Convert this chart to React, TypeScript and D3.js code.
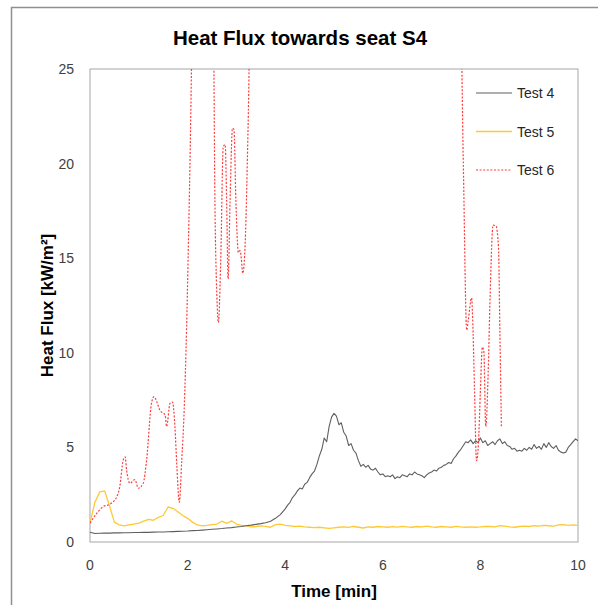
import React from "react";
import * as d3 from "d3";

const yTicks = [0, 5, 10, 15, 20, 25];
const xTicks = [0, 2, 4, 6, 8, 10];
const seriesNames = ["Test 4", "Test 5", "Test 6"];

const t4 = [
  0.0, 0.1, 0.2, 0.3, 0.4, 0.5, 0.6, 0.7, 0.8, 0.9, 1.0, 1.1, 1.2, 1.3, 1.4, 1.5, 1.6, 1.7, 1.8, 1.9,
  2.0, 2.1, 2.2, 2.3, 2.4, 2.5, 2.6, 2.7, 2.8, 2.9, 3.0, 3.1, 3.2, 3.3, 3.4, 3.5, 3.6, 3.7, 3.8, 3.9,
  4.0, 4.05, 4.1, 4.15, 4.2, 4.25, 4.3, 4.35, 4.4, 4.45, 4.5, 4.55, 4.6, 4.65, 4.7, 4.75, 4.8, 4.85, 4.9, 4.95,
  5.0, 5.05, 5.1, 5.15, 5.2, 5.25, 5.3, 5.35, 5.4, 5.45, 5.5, 5.55, 5.6, 5.65, 5.7, 5.75, 5.8, 5.85, 5.9, 5.95,
  6.0, 6.05, 6.1, 6.15, 6.2, 6.25, 6.3, 6.35, 6.4, 6.45, 6.5, 6.55, 6.6, 6.65, 6.7, 6.75, 6.8, 6.85, 6.9, 6.95,
  7.0, 7.05, 7.1, 7.15, 7.2, 7.25, 7.3, 7.35, 7.4, 7.45, 7.5, 7.55, 7.6, 7.65, 7.7, 7.75, 7.8, 7.85, 7.9, 7.95,
  8.0, 8.05, 8.1, 8.15, 8.2, 8.25, 8.3, 8.35, 8.4, 8.45, 8.5, 8.55, 8.6, 8.65, 8.7, 8.75, 8.8, 8.85, 8.9, 8.95,
  9.0, 9.05, 9.1, 9.15, 9.2, 9.25, 9.3, 9.35, 9.4, 9.45, 9.5, 9.55, 9.6, 9.65, 9.7, 9.75, 9.8, 9.85, 9.9, 9.95, 10.0,
];

const test4 = [
  0.52, 0.45, 0.46, 0.47, 0.47, 0.48, 0.48, 0.49, 0.49, 0.5, 0.5, 0.51, 0.51, 0.52, 0.53, 0.53, 0.54, 0.55, 0.56, 0.57,
  0.58, 0.6, 0.61, 0.63, 0.65, 0.67, 0.69, 0.71, 0.74, 0.76, 0.79, 0.82, 0.86, 0.89, 0.93, 0.97, 1.02, 1.1, 1.25, 1.45,
  1.75, 1.95, 2.1, 2.35, 2.5, 2.7, 2.85, 2.8, 3.05, 3.15, 3.4, 3.6, 3.75, 4.1, 4.55, 4.9, 5.5, 5.3, 6.1, 6.6,
  6.8, 6.65, 6.2, 6.3, 5.8, 5.6, 5.1, 5.2, 4.85, 4.7, 4.3, 4.0, 4.1, 3.95, 4.05, 3.85, 3.8, 3.9, 3.7, 3.55,
  3.6, 3.45, 3.5, 3.45, 3.55, 3.35, 3.45, 3.4, 3.55, 3.5, 3.45, 3.6, 3.55, 3.7, 3.6, 3.55, 3.5, 3.4, 3.55, 3.65,
  3.7, 3.8, 3.75, 3.9, 3.95, 4.05, 4.1, 4.2, 4.15, 4.4, 4.55, 4.75, 4.9, 5.1, 5.3, 5.25, 5.4, 5.2, 5.35, 5.25,
  5.5, 5.25, 5.35, 5.1, 5.2, 5.3, 5.15, 5.35, 5.45, 5.2, 5.3, 5.1, 5.05, 4.9, 4.95, 4.8, 4.85, 4.8, 4.95, 4.85,
  5.0, 4.9, 5.15, 4.95, 5.05, 4.9, 5.2, 5.0, 5.25, 5.05, 4.95, 5.1, 4.85, 4.75, 4.7, 4.75, 5.0, 5.15, 5.3, 5.45, 5.35,
];

const t5 = [
  0.0, 0.1, 0.2, 0.3, 0.4, 0.5, 0.6, 0.7, 0.8, 0.9, 1.0, 1.1, 1.2, 1.3, 1.4, 1.5, 1.6, 1.7, 1.8, 1.9,
  2.0, 2.1, 2.2, 2.3, 2.4, 2.5, 2.6, 2.7, 2.8, 2.9, 3.0, 3.1, 3.2, 3.3, 3.4, 3.5, 3.6, 3.7, 3.8, 3.9,
  4.0, 4.1, 4.2, 4.3, 4.4, 4.5, 4.6, 4.7, 4.8, 4.9, 5.0, 5.1, 5.2, 5.3, 5.4, 5.5, 5.6, 5.7, 5.8, 5.9,
  6.0, 6.1, 6.2, 6.3, 6.4, 6.5, 6.6, 6.7, 6.8, 6.9, 7.0, 7.1, 7.2, 7.3, 7.4, 7.5, 7.6, 7.7, 7.8, 7.9,
  8.0, 8.1, 8.2, 8.3, 8.4, 8.5, 8.6, 8.7, 8.8, 8.9, 9.0, 9.1, 9.2, 9.3, 9.4, 9.5, 9.6, 9.7, 9.8, 9.9, 10.0,
];

const test5 = [
  1.0, 2.1, 2.65, 2.7, 1.9, 1.05, 0.9, 0.85, 0.9, 0.95, 1.0, 1.1, 1.2, 1.15, 1.3, 1.4, 1.85, 1.78, 1.6, 1.4,
  1.25, 1.05, 0.9, 0.85, 0.88, 0.92, 0.95, 1.1, 0.98, 1.12, 0.95, 0.88, 0.85, 0.8, 0.82, 0.85, 0.83, 0.78, 0.92, 0.95,
  0.88, 0.85, 0.82, 0.84, 0.8, 0.78, 0.76, 0.78, 0.75, 0.72, 0.75, 0.78, 0.8, 0.77, 0.82, 0.78, 0.74, 0.8, 0.78, 0.82,
  0.8, 0.78, 0.81, 0.79, 0.83, 0.8, 0.78, 0.82, 0.8, 0.84, 0.8, 0.78, 0.82, 0.8, 0.78, 0.83, 0.8, 0.78, 0.8, 0.78,
  0.8, 0.83, 0.82, 0.8, 0.86, 0.84, 0.8, 0.78, 0.82, 0.84, 0.82, 0.86, 0.84, 0.88, 0.86, 0.84, 0.9, 0.92, 0.88, 0.9, 0.88,
];

const t6 = [
  0, 0.14, 0.27, 0.41, 0.55, 0.61, 0.68, 0.72, 0.75, 0.82, 0.92, 0.99, 1.09, 1.16, 1.26, 1.31, 1.37, 1.43, 1.54, 1.57,
  1.64, 1.69, 1.74, 1.78, 1.83, 1.88, 1.93, 1.98, 2.01, 2.05, 2.09, 2.3, 2.53, 2.56, 2.6, 2.63, 2.68, 2.73, 2.77, 2.8,
  2.83, 2.87, 2.92, 2.95, 2.99, 3.04, 3.07, 3.1, 3.13, 3.18, 3.24, 3.28, 5.5, 7.6, 7.65, 7.72, 7.75, 7.82, 7.84, 7.88,
  7.92, 7.96, 8.0, 8.04, 8.07, 8.11, 8.16, 8.2, 8.26, 8.32, 8.37, 8.4, 8.43,
];

const test6 = [
  1.0, 1.52, 1.87, 2.0, 2.4, 2.92, 4.33, 4.5, 3.8, 3.1, 3.3, 2.84, 3.1, 4.33, 7.33, 7.68, 7.4, 6.98, 6.7, 6.1,
  7.33, 7.4, 6.1, 4.0, 2.1, 4.3, 7.0, 11.4, 14.9, 20.2, 26.5, 40, 27, 18, 13, 11.6, 15, 20.9, 21.0, 18,
  13.9, 18, 21.87, 21.8, 18, 15.3, 15.4, 15.0, 14.2, 15.8, 22, 27, 40, 27, 20, 11.2, 11.7, 12.9, 11.9, 8,
  4.3, 5.2, 8, 10.3, 10.1, 6.1, 9, 13.1, 16.75, 16.7, 15.6, 11, 6.1,
];

const W = 598;
const H = 605;
const L = 90, R = 578, T = 69, B = 542;
const FONT = "'Liberation Sans', Arial, sans-serif";

export default function App() {
  const x = d3.scaleLinear().domain([0, 10]).range([L, R]);
  const y = d3.scaleLinear().domain([0, 25]).range([B, T]);

  const lineLin = d3
    .line<[number, number]>()
    .x((d) => x(d[0]))
    .y((d) => y(d[1]));
  const lineSmooth = d3
    .line<[number, number]>()
    .x((d) => x(d[0]))
    .y((d) => y(d[1]))
    .curve(d3.curveMonotoneX);

  const d4 = lineLin(t4.map((t, i) => [t, test4[i]] as [number, number])) || "";
  const d5 = lineLin(t5.map((t, i) => [t, test5[i]] as [number, number])) || "";
  const d6 = lineSmooth(t6.map((t, i) => [t, test6[i]] as [number, number])) || "";

  const styles = [
    { stroke: "#5f5f5f", width: 1.1, dash: undefined as string | undefined },
    { stroke: "#ffc933", width: 1.3, dash: undefined as string | undefined },
    { stroke: "#ff3d3d", width: 1.2, dash: "2 1.6" },
  ];
  const legendY = [93, 131.5, 170];

  return (
    <svg
      width={W}
      height={H}
      style={{ position: "absolute", left: 0, top: 0, background: "#fff" }}
      fontFamily={FONT}
    >
      <defs>
        <clipPath id="plotclip">
          <rect x={L} y={T} width={R - L} height={B - T} />
        </clipPath>
      </defs>
      <rect x={0} y={0} width={W} height={H} fill="#fff" />
      <path d={`M11.5,${H}V7.5H${W}`} fill="none" stroke="#8f8f8f" strokeWidth={1.5} />

      <text x={300} y={45} textAnchor="middle" fontSize={20.5} fontWeight="bold" fill="#000">
        Heat Flux towards seat S4
      </text>

      <rect x={L} y={T} width={R - L} height={B - T} fill="none" stroke="#a6a6a6" strokeWidth={1} />

      {yTicks.map((v) => (
        <text key={"y" + v} x={74} y={y(v) + 5} textAnchor="end" fontSize={14} fill="#404040">
          {v}
        </text>
      ))}
      {xTicks.map((v) => (
        <text key={"x" + v} x={x(v)} y={570} textAnchor="middle" fontSize={14} fill="#404040">
          {v}
        </text>
      ))}

      <text x={334} y={597} textAnchor="middle" fontSize={17} fontWeight="bold" fill="#000">
        Time [min]
      </text>
      <text
        transform={`translate(53,${(T + B) / 2}) rotate(-90)`}
        textAnchor="middle"
        fontSize={17}
        fontWeight="bold"
        fill="#000"
      >
        Heat Flux [kW/m²]
      </text>

      <g clipPath="url(#plotclip)">
        <path d={d5} fill="none" stroke={styles[1].stroke} strokeWidth={styles[1].width} strokeLinejoin="round" />
        <path d={d4} fill="none" stroke={styles[0].stroke} strokeWidth={styles[0].width} strokeLinejoin="round" />
        <path
          d={d6}
          fill="none"
          stroke={styles[2].stroke}
          strokeWidth={styles[2].width}
          strokeDasharray={styles[2].dash}
        />
      </g>

      {seriesNames.map((name, i) => (
        <g key={name}>
          <line
            x1={476}
            x2={512}
            y1={legendY[i]}
            y2={legendY[i]}
            stroke={styles[i].stroke}
            strokeWidth={styles[i].width}
            strokeDasharray={styles[i].dash}
          />
          <text x={517} y={legendY[i] + 5} fontSize={14} fill="#262626">
            {name}
          </text>
        </g>
      ))}
    </svg>
  );
}
